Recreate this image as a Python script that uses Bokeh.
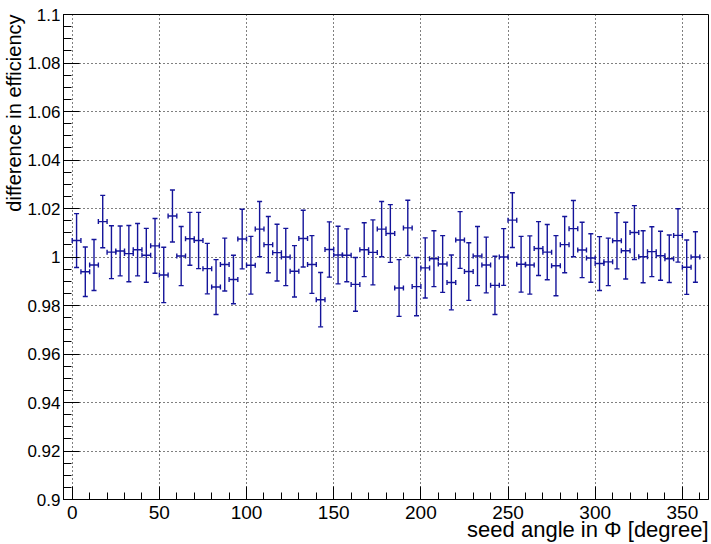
import math
from bokeh.plotting import figure
from bokeh.models import (ColumnDataSource, FixedTicker, Range1d, Title,
                          CustomJSTickFormatter)
from bokeh.embed import file_html
from bokeh.resources import INLINE

# ---- data ----
bin_width = 5.0
bin_low = list(range(0, 360, 5))          # 72 bins of 5 degrees
eff_diff = [1.0068, 0.9939, 0.9967, 1.0146, 1.0020, 1.0025, 1.0014, 1.0030, 1.0007, 1.0046,
            0.9926, 1.0169, 1.0004, 1.0075, 1.0068, 0.9952, 0.9876, 0.9969, 0.9907, 1.0074,
            0.9966, 1.0115, 1.0051, 1.0018, 1.0000, 0.9941, 1.0076, 0.9969, 0.9824, 1.0031,
            1.0008, 1.0007, 0.9887, 1.0030, 1.0019, 1.0115, 1.0097, 0.9872, 1.0120, 0.9878,
            0.9955, 0.9993, 0.9971, 0.9895, 1.0070, 0.9940, 1.0004, 0.9967, 0.9883, 1.0000,
            1.0152, 0.9970, 0.9967, 1.0035, 1.0020, 0.9964, 1.0051, 1.0117, 1.0029, 0.9996,
            0.9973, 0.9980, 1.0067, 1.0026, 1.0101, 1.0001, 1.0022, 1.0005, 0.9993, 1.0089,
            0.9958, 1.0000]
eff_err = [0.0111, 0.0102, 0.0105, 0.0108, 0.0109, 0.0103, 0.0116, 0.0108, 0.0111, 0.0113,
           0.0114, 0.0107, 0.0122, 0.0109, 0.0116, 0.0104, 0.0113, 0.0109, 0.0100, 0.0123,
           0.0119, 0.0114, 0.0116, 0.0117, 0.0118, 0.0106, 0.0117, 0.0119, 0.0112, 0.0114,
           0.0119, 0.0109, 0.0111, 0.0111, 0.0134, 0.0114, 0.0119, 0.0117, 0.0114, 0.0120,
           0.0124, 0.0115, 0.0117, 0.0113, 0.0117, 0.0119, 0.0122, 0.0115, 0.0120, 0.0117,
           0.0113, 0.0115, 0.0120, 0.0111, 0.0114, 0.0124, 0.0116, 0.0116, 0.0114, 0.0100,
           0.0111, 0.0098, 0.0116, 0.0117, 0.0111, 0.0107, 0.0103, 0.0101, 0.0098, 0.0110,
           0.0112, 0.0104]

x_ticks = [0, 50, 100, 150, 200, 250, 300, 350]
x_tick_labels = ["0", "50", "100", "150", "200", "250", "300", "350"]
x_minor = [10 * k for k in range(0, 37)]
y_ticks = [0.9, 0.92, 0.94, 0.96, 0.98, 1.0, 1.02, 1.04, 1.06, 1.08, 1.1]
y_tick_labels = ["0.9", "0.92", "0.94", "0.96", "0.98", "1", "1.02", "1.04", "1.06", "1.08", "1.1"]
y_minor = [round(0.9 + 0.005 * k, 3) for k in range(0, 41)]

x_title = "seed angle in \u03a6 [degree]"
y_title = "difference in efficiency"

# ---- derived columns ----
xc = [b + bin_width / 2 for b in bin_low]
src = ColumnDataSource(dict(
    x=xc, y=eff_diff,
    lo=[v - e for v, e in zip(eff_diff, eff_err)],
    hi=[v + e for v, e in zip(eff_diff, eff_err)],
    xl=[b for b in bin_low],
    xr=[b + bin_width for b in bin_low],
))

FONT = "Liberation Sans"
COL = "#14149a"

p = figure(width=711, height=544, output_backend="svg", toolbar_location=None,
           x_range=Range1d(-5, 365), y_range=Range1d(0.9, 1.1),
           min_border_left=62, min_border_right=3, min_border_top=14,
           min_border_bottom=45)
p.background_fill_color = "white"
p.border_fill_color = "white"
p.outline_line_color = "black"
p.outline_line_width = 1
p.outline_line_alpha = 1

# grids
for g in (p.xgrid, p.ygrid):
    g.grid_line_color = "black"
    g.grid_line_dash = "1 3"
    g.grid_line_width = 1
    g.grid_line_alpha = 1
p.xgrid.ticker = FixedTicker(ticks=x_ticks)
p.ygrid.ticker = FixedTicker(ticks=y_ticks)

# axes
xa = p.xaxis[0]
ya = p.yaxis[0]
xa.ticker = FixedTicker(ticks=x_ticks, minor_ticks=x_minor)
ya.ticker = FixedTicker(ticks=y_ticks, minor_ticks=y_minor)
fmt_code = """
let i = 0, b = 1e9;
for (let k = 0; k < tv.length; k++) {
  const d = Math.abs(tv[k] - tick);
  if (d < b) { b = d; i = k; }
}
return lab[i];
"""
xa.formatter = CustomJSTickFormatter(args=dict(tv=x_ticks, lab=x_tick_labels), code=fmt_code)
ya.formatter = CustomJSTickFormatter(args=dict(tv=y_ticks, lab=y_tick_labels), code=fmt_code)
for ax in (xa, ya):
    ax.axis_line_color = "black"
    ax.axis_line_width = 1
    ax.major_tick_line_color = "black"
    ax.minor_tick_line_color = "black"
    ax.major_tick_out = 0
    ax.minor_tick_out = 0
    ax.major_label_text_font = FONT
    ax.major_label_text_color = "black"
xa.major_label_text_font_size = "19px"
ya.major_label_text_font_size = "17px"
xa.major_tick_in = 13
xa.minor_tick_in = 7
ya.major_tick_in = 16
ya.minor_tick_in = 8
xa.major_label_standoff = 6
ya.major_label_standoff = 3

# error bars
p.segment(x0="x", y0="lo", x1="x", y1="hi", source=src, line_color=COL, line_width=1.4)
p.segment(x0="xl", y0="y", x1="xr", y1="y", source=src, line_color=COL, line_width=1.4)
p.scatter(x="x", y="lo", source=src, marker="dash", size=5, line_color=COL, line_width=1.4)
p.scatter(x="x", y="hi", source=src, marker="dash", size=5, line_color=COL, line_width=1.4)
p.scatter(x="xl", y="y", source=src, marker="dash", angle=math.pi / 2, size=5, line_color=COL, line_width=1.4)
p.scatter(x="xr", y="y", source=src, marker="dash", angle=math.pi / 2, size=5, line_color=COL, line_width=1.4)

# axis titles (ROOT style, aligned to the end of the axes)
p.add_layout(Title(text=x_title, align="right", vertical_align="top",
                   text_font=FONT, text_font_size="22px",
                   text_font_style="normal", text_color="black",
                   standoff=-9), "below")
p.add_layout(Title(text=y_title, align="right", text_font=FONT,
                   text_font_size="20px", text_font_style="normal",
                   text_color="black", standoff=0), "left")

open("out.html", "w").write(file_html(p, INLINE))
